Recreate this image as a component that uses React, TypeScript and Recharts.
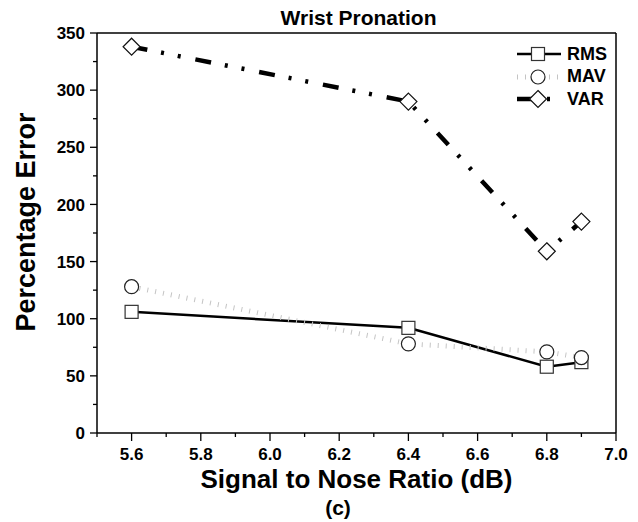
import React from "react";
import { LineChart, Line, XAxis, YAxis } from "recharts";

// signal to noise ratio (dB) on the x axis
const snr = [5.6, 6.4, 6.8, 6.9];
// percentage error per feature
const rmsErr = [106, 92, 58, 62];
const mavErr = [128, 78, 71, 66];
const varErr = [338, 290, 159, 185];

const xMajor = [5.6, 5.8, 6.0, 6.2, 6.4, 6.6, 6.8, 7.0];
const xMinor = [5.5, 5.7, 5.9, 6.1, 6.3, 6.5, 6.7, 6.9];
const yMajor = [0, 50, 100, 150, 200, 250, 300, 350];
const yMinor = [25, 75, 125, 175, 225, 275, 325];

const FONT = "'Liberation Sans', Arial, sans-serif";

const data = snr.map((s, i) => ({
  snr: s,
  RMS: rmsErr[i],
  MAV: mavErr[i],
  VAR: varErr[i],
}));

type Marker = "square" | "circle" | "diamond";

const series: {
  key: "RMS" | "MAV" | "VAR";
  stroke: string;
  width: number;
  dash?: string;
  marker: Marker;
}[] = [
  { key: "RMS", stroke: "#000", width: 2.5, marker: "square" },
  { key: "MAV", stroke: "#c4c4c4", width: 5, dash: "1 7", marker: "circle" },
  { key: "VAR", stroke: "#000", width: 4.5, dash: "16 14 3 14 3 15", marker: "diamond" },
];

function MarkerShape({ cx, cy, type }: { cx: number; cy: number; type: Marker }) {
  if (type === "square")
    return <rect x={cx - 6.5} y={cy - 6.5} width={13} height={13} fill="#fff" stroke="#333" strokeWidth={1.2} />;
  if (type === "circle") return <circle cx={cx} cy={cy} r={7} fill="#fff" stroke="#222" strokeWidth={1.2} />;
  return (
    <polygon
      points={`${cx},${cy - 8.5} ${cx + 8.5},${cy} ${cx},${cy + 8.5} ${cx - 8.5},${cy}`}
      fill="#fff"
      stroke="#111"
      strokeWidth={1.2}
    />
  );
}

const TICK_SIZE = 8;
const TICK_MARGIN = 4;
const isIn = (list: number[], v: number) => list.some((m) => Math.abs(m - v) < 1e-6);

// bottom ticks: long ones with labels, short ones without
function XTick(p: any) {
  const v = p.payload.value;
  const major = isIn(xMajor, v);
  const axisY = p.y - TICK_SIZE - TICK_MARGIN;
  return (
    <g>
      <line x1={p.x} x2={p.x} y1={axisY} y2={axisY + (major ? 8 : 4)} stroke="#000" strokeWidth={1.3} />
      {major && (
        <text
          x={p.x}
          y={p.y}
          dy="0.9em"
          textAnchor="middle"
          fontFamily={FONT}
          fontWeight={700}
          fontSize={17}
          fill="#000"
        >
          {v.toFixed(1)}
        </text>
      )}
    </g>
  );
}

function YTick(p: any) {
  const v = p.payload.value;
  const major = isIn(yMajor, v);
  const axisX = p.x + TICK_SIZE + TICK_MARGIN;
  return (
    <g>
      <line x1={axisX} x2={axisX - (major ? 7 : 4)} y1={p.y} y2={p.y} stroke="#000" strokeWidth={1.3} />
      {major && (
        <text
          x={axisX - 12}
          y={p.y}
          dy="0.36em"
          textAnchor="end"
          fontFamily={FONT}
          fontWeight={700}
          fontSize={17}
          fill="#000"
        >
          {v}
        </text>
      )}
    </g>
  );
}

export default function App() {
  return (
    <div style={{ position: "absolute", left: 0, top: 0, width: 638, height: 522, background: "#fff" }}>
      <LineChart width={638} height={522} data={data} margin={{ top: 32, right: 21, bottom: 0, left: 0 }}>
        <XAxis
          xAxisId="main"
          type="number"
          dataKey="snr"
          domain={[5.5, 7.0]}
          ticks={[...xMinor, ...xMajor].sort((a, b) => a - b)}
          tick={<XTick />}
          tickLine={false}
          tickSize={TICK_SIZE}
          tickMargin={TICK_MARGIN}
          interval={0}
          height={89}
          stroke="#000"
          strokeWidth={1.5}
          allowDataOverflow
          label={{
            content: (p: any) => {
              const vb = p.viewBox;
              return (
                <g fontFamily={FONT} fontWeight={700} fill="#000">
                  <text x={vb.x + vb.width / 2} y={vb.y + 55} textAnchor="middle" fontSize={26}>
                    Signal to Nose Ratio (dB)
                  </text>
                  <text x={338} y={vb.y + 82} textAnchor="middle" fontSize={21}>
                    (c)
                  </text>
                </g>
              );
            },
          }}
        />
        <XAxis
          xAxisId="top"
          orientation="top"
          type="number"
          dataKey="snr"
          domain={[5.5, 7.0]}
          ticks={[...xMinor, ...xMajor]}
          interval={0}
          tick={false}
          tickSize={-4}
          height={1}
          stroke="#000"
          strokeWidth={1.5}
          allowDataOverflow
          label={{
            content: (p: any) => {
              const vb = p.viewBox;
              return (
                <text
                  x={vb.x + vb.width / 2 + 2}
                  y={25}
                  textAnchor="middle"
                  fontFamily={FONT}
                  fontWeight={700}
                  fontSize={21}
                  fill="#000"
                >
                  Wrist Pronation
                </text>
              );
            },
          }}
        />
        <YAxis
          yAxisId="main"
          domain={[0, 350]}
          ticks={[...yMinor, ...yMajor].sort((a, b) => a - b)}
          interval={0}
          tick={<YTick />}
          tickLine={false}
          tickSize={TICK_SIZE}
          tickMargin={TICK_MARGIN}
          width={97}
          stroke="#000"
          strokeWidth={1.5}
          allowDataOverflow
          label={{
            content: (p: any) => {
              const vb = p.viewBox;
              const cy = vb.y + vb.height / 2 - 11;
              return (
                <text
                  x={35}
                  y={cy}
                  transform={`rotate(-90 35 ${cy})`}
                  textAnchor="middle"
                  fontFamily={FONT}
                  fontWeight={700}
                  fontSize={27}
                  fill="#000"
                >
                  Percentage Error
                </text>
              );
            },
          }}
        />
        <YAxis
          yAxisId="right"
          orientation="right"
          domain={[0, 350]}
          ticks={[...yMinor, ...yMajor]}
          interval={0}
          tick={false}
          tickSize={-4}
          width={1}
          stroke="#000"
          strokeWidth={1.5}
          allowDataOverflow
        />
        {series.map((s) => (
          <Line
            key={s.key}
            xAxisId="main"
            yAxisId="main"
            dataKey={s.key}
            stroke={s.stroke}
            strokeWidth={s.width}
            strokeDasharray={s.dash}
            isAnimationActive={false}
            dot={(p: any) => <MarkerShape key={`${s.key}-${p.index}`} cx={p.cx} cy={p.cy} type={s.marker} />}
            activeDot={false}
          />
        ))}
      </LineChart>
      <div style={{ position: "absolute", left: 517, top: 43, fontFamily: FONT, fontWeight: 700, fontSize: 18 }}>
        {series.map((s) => (
          <div key={s.key} style={{ display: "flex", alignItems: "center", height: 22.5 }}>
            <svg width={44} height={20}>
              <line x1={0} y1={10} x2={44} y2={10} stroke={s.stroke} strokeWidth={s.width} strokeDasharray={s.dash} />
              <MarkerShape cx={21} cy={10} type={s.marker} />
            </svg>
            <span style={{ marginLeft: 6 }}>{s.key}</span>
          </div>
        ))}
      </div>
    </div>
  );
}
